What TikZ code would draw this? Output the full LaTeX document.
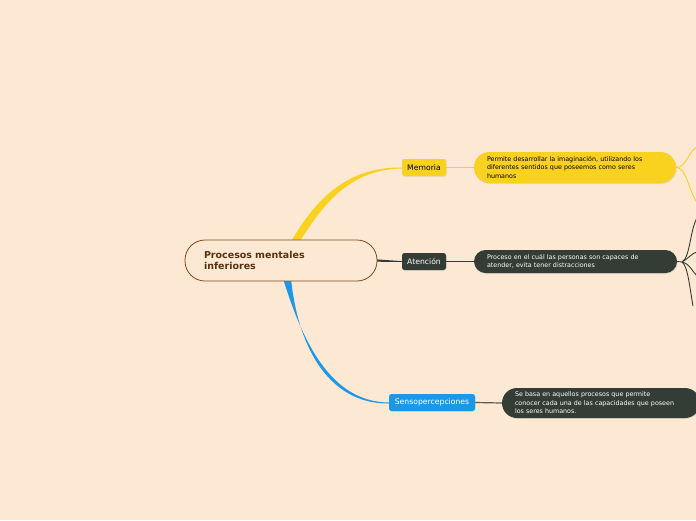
\documentclass[tikz,border=0pt]{standalone}
\usepackage{fontspec}
\setmainfont{DejaVu Sans}
\usetikzlibrary{backgrounds,shadows,calc}
\definecolor{mapbg}{HTML}{FDE8D3}
\definecolor{rootbrown}{HTML}{7A4A1E}
\definecolor{roottext}{HTML}{5A3010}
\definecolor{mapyellow}{HTML}{F9D11F}
\definecolor{mapdark}{HTML}{343D35}
\definecolor{mapblue}{HTML}{1B98E8}
\definecolor{mapgrey}{HTML}{5C5C52}

\begin{document}
\begin{tikzpicture}[x=1pt, y=-1pt,
      root/.style={draw=rootbrown, fill=mapbg, line width=0.8pt, rounded corners=20pt,
                   minimum width=192pt, minimum height=41pt, text width=154pt, align=left,
                   text=roottext, font=\bfseries\fontsize{9.5}{11}\selectfont},
      topic/.style={rounded corners=2.5pt, minimum height=17pt, inner xsep=4pt, inner ysep=0pt,
                    font=\fontsize{7.7}{9}\selectfont,
                    drop shadow={shadow xshift=0.5pt, shadow yshift=-0.7pt, opacity=0.2}},
      note/.style={align=left, inner ysep=0pt, font=\fontsize{6.35}{8.5}\selectfont,
                   drop shadow={shadow xshift=0.6pt, shadow yshift=-0.9pt, opacity=0.2}},
      twig/.style={line width=0.9pt}]
    \useasboundingbox (0,0) rectangle (696,520);
    \begin{scope}[on background layer]
      \fill[mapbg] (0,0) rectangle (696,520);
    \end{scope}

    % main nodes
    \node[root] (root) at (281,260.5) {Procesos mentales\\inferiores};
    \node[topic, fill=mapyellow, minimum width=44pt] (mem) at (424,167.5) {Memoria};
    \node[topic, fill=mapdark, text=white, minimum width=44pt] (aten) at (424,261.5) {Atención};
    \node[topic, fill=mapblue, text=white, minimum width=86pt] (senso) at (432,402.5) {Sensopercepciones};

    % descriptions
    \node[note, fill=mapyellow, rounded corners=15.5pt, minimum width=202pt, minimum height=31pt,
          text width=176pt] (memtxt) at (575,167.5)
          {Permite desarrollar la imaginación, utilizando los\\diferentes sentidos que poseemos como seres\\humanos};
    \node[note, fill=mapdark, text=white, rounded corners=11.5pt, minimum width=203pt, minimum height=23pt,
          text width=177pt] (atentxt) at (575.5,261.5)
          {Proceso en el cuál las personas son capaces de\\atender, evita tener distracciones};
    \node[note, fill=mapdark, text=white, rounded corners=15pt, minimum width=198pt, minimum height=30pt,
          text width=172pt] (sensotxt) at (601,403)
          {Se basa en aquellos procesos que permite\\conocer cada una de las capacidades que poseen\\los seres humanos.};

    \begin{scope}[on background layer]
      % branches out of the root
      \fill[mapyellow] (root.north) ++(10,2) .. controls (318,195) and (350,167) .. (mem.west)
        -- ++(0,1) .. controls (354,169.5) and (326,198) .. (299,243) -- cycle;
      \fill[mapblue] (root.south) ++(2,-3) .. controls (302,340) and (330,402) .. (senso.west)
        -- ++(0,1) .. controls (326,404) and (297,342) .. (291,278) -- cycle;
      \fill[mapdark] ($(root.east)+(-2,-1.2)$) -- ($(aten.west)+(0,-0.4)$) -- ($(aten.west)+(0,0.4)$)
        -- ($(root.east)+(-2,1.2)$) -- cycle;
      % topic to description
      \draw[twig, mapyellow] (mem.east) -- (memtxt.west);
      \draw[twig, mapdark] (aten.east) -- (atentxt.west);
      \draw[mapgrey, line width=1.2pt] (senso.east) -- (sensotxt.west);
      % loose ends on the right
      \coordinate (yend1) at (697,147);
      \coordinate (yend2) at (696,201);
      \draw[twig, mapyellow] (memtxt.east) .. controls ++(10,0) and (688,152) .. (yend1);
      \draw[twig, mapyellow] (memtxt.east) .. controls ++(10,0) and (688,188) .. (yend2);
      \coordinate (dj) at (682,262);
      \coordinate (dend1) at (697,218);
      \coordinate (dend2) at (697,252);
      \coordinate (dend3) at (697,276);
      \coordinate (dend4) at (693,306);
      \draw[twig, mapdark] (atentxt.east) -- (dj);
      \draw[twig, mapdark] (dj) .. controls (690,258) and (690,230) .. (dend1);
      \draw[twig, mapdark] (dj) .. controls (689,258) and (692,253) .. (dend2);
      \draw[twig, mapdark] (dj) .. controls (690,264) and (692,271) .. (dend3);
      \draw[twig, mapdark] (dj) .. controls (688,266) and (690,290) .. (dend4);
    \end{scope}
  \end{tikzpicture}
\end{document}
